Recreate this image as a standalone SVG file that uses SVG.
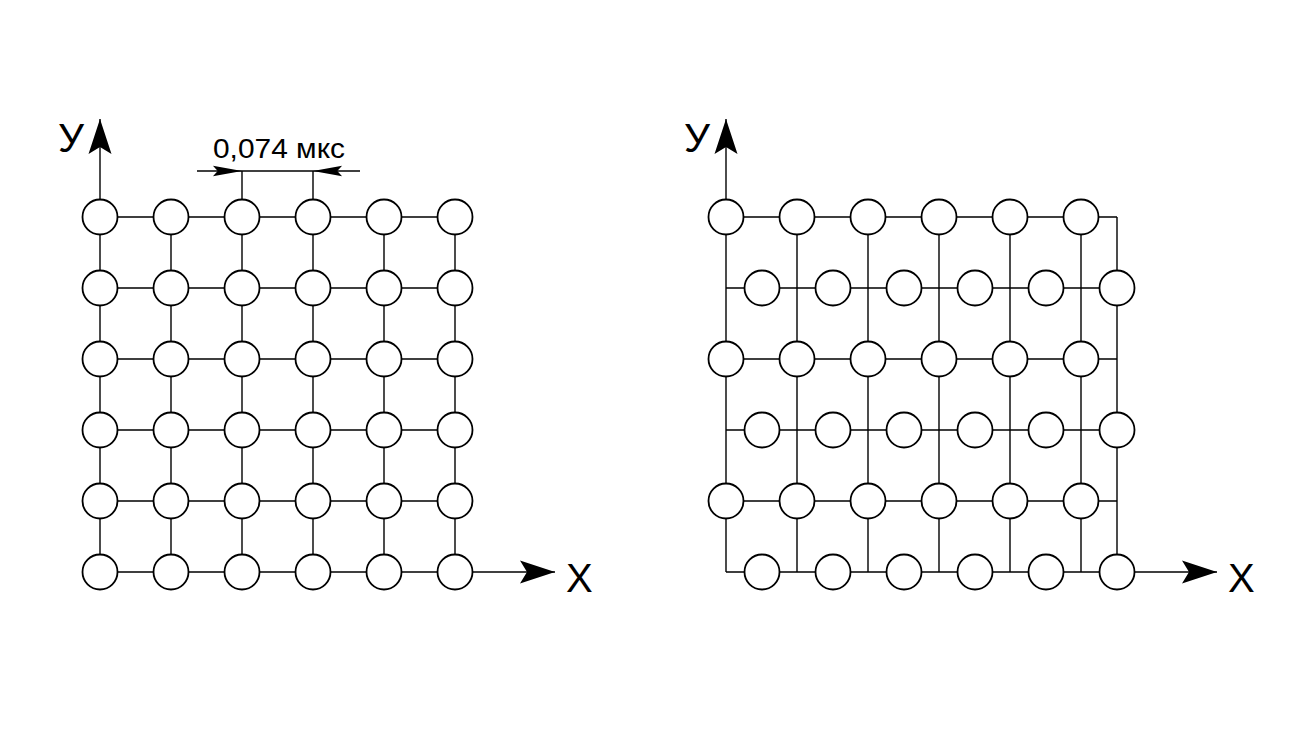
<svg xmlns="http://www.w3.org/2000/svg" width="1315" height="744" viewBox="0 0 1315 744">
<style>
.ln{stroke:#000;stroke-width:1.4;fill:none}
.nd{fill:#fff;stroke:#000;stroke-width:1.8}
.lbl{font-family:"Liberation Sans",Arial,sans-serif;fill:#000}
</style>
<defs>
<marker id="ax" markerUnits="userSpaceOnUse" markerWidth="40" markerHeight="26" viewBox="-36 -13 38 26" refX="0" refY="0" orient="auto">
<path d="M0,0 L-35,-11.5 L-28,0 L-35,11.5 Z" fill="#000"/>
</marker>
<marker id="dm" markerUnits="userSpaceOnUse" markerWidth="32" markerHeight="14" viewBox="-31 -7 33 14" refX="0" refY="0" orient="auto">
<path d="M0,0 L-30,-5.5 L-25,0 L-30,5.5 Z" fill="#000"/>
</marker>
</defs>
<rect width="1315" height="744" fill="#fff"/>
<g id="connectors">
<!-- left grid -->
<path class="ln" d="M100,217V572 M171,217V572 M242,217V572 M313,217V572 M384,217V572 M455,217V572"/>
<path class="ln" d="M100,217H455 M100,288H455 M100,359H455 M100,430H455 M100,501H455 M100,572H455"/>
<line class="ln" x1="100" y1="200" x2="100" y2="119" marker-end="url(#ax)"/>
<line class="ln" x1="473" y1="572" x2="555" y2="572" marker-end="url(#ax)"/>
<!-- dimension -->
<path class="ln" d="M242,199V171 M313,199V171"/>
<line class="ln" x1="197" y1="171" x2="242" y2="171" marker-end="url(#dm)"/>
<line class="ln" x1="360" y1="171" x2="313" y2="171" marker-end="url(#dm)"/>
<line class="ln" x1="242" y1="171" x2="313" y2="171"/>
<!-- right grid -->
<path class="ln" d="M726,217V572 M797,217V572 M868,217V572 M939,217V572 M1010,217V572 M1081,217V572 M1117,217V572"/>
<path class="ln" d="M726,217H1117 M726,288H1117 M726,359H1117 M726,430H1117 M726,501H1117 M726,572H1117"/>
<line class="ln" x1="726" y1="200" x2="726" y2="119" marker-end="url(#ax)"/>
<line class="ln" x1="1135" y1="572" x2="1217" y2="572" marker-end="url(#ax)"/>
</g>
<g id="labels">
<text class="lbl" x="58" y="152" font-size="40" textLength="26" lengthAdjust="spacingAndGlyphs">У</text>
<text class="lbl" x="566" y="592" font-size="40">X</text>
<text class="lbl" x="684" y="152" font-size="40" textLength="26" lengthAdjust="spacingAndGlyphs">У</text>
<text class="lbl" x="1228" y="592" font-size="40">X</text>
<text class="lbl" x="213" y="158" font-size="28" textLength="132" lengthAdjust="spacingAndGlyphs">0,074 мкс</text>
</g>
<g id="left-grid">
<g id="L00"><circle class="nd" cx="100" cy="217" r="17.5"/></g>
<g id="L01"><circle class="nd" cx="171" cy="217" r="17.5"/></g>
<g id="L02"><circle class="nd" cx="242" cy="217" r="17.5"/></g>
<g id="L03"><circle class="nd" cx="313" cy="217" r="17.5"/></g>
<g id="L04"><circle class="nd" cx="384" cy="217" r="17.5"/></g>
<g id="L05"><circle class="nd" cx="455" cy="217" r="17.5"/></g>
<g id="L10"><circle class="nd" cx="100" cy="288" r="17.5"/></g>
<g id="L11"><circle class="nd" cx="171" cy="288" r="17.5"/></g>
<g id="L12"><circle class="nd" cx="242" cy="288" r="17.5"/></g>
<g id="L13"><circle class="nd" cx="313" cy="288" r="17.5"/></g>
<g id="L14"><circle class="nd" cx="384" cy="288" r="17.5"/></g>
<g id="L15"><circle class="nd" cx="455" cy="288" r="17.5"/></g>
<g id="L20"><circle class="nd" cx="100" cy="359" r="17.5"/></g>
<g id="L21"><circle class="nd" cx="171" cy="359" r="17.5"/></g>
<g id="L22"><circle class="nd" cx="242" cy="359" r="17.5"/></g>
<g id="L23"><circle class="nd" cx="313" cy="359" r="17.5"/></g>
<g id="L24"><circle class="nd" cx="384" cy="359" r="17.5"/></g>
<g id="L25"><circle class="nd" cx="455" cy="359" r="17.5"/></g>
<g id="L30"><circle class="nd" cx="100" cy="430" r="17.5"/></g>
<g id="L31"><circle class="nd" cx="171" cy="430" r="17.5"/></g>
<g id="L32"><circle class="nd" cx="242" cy="430" r="17.5"/></g>
<g id="L33"><circle class="nd" cx="313" cy="430" r="17.5"/></g>
<g id="L34"><circle class="nd" cx="384" cy="430" r="17.5"/></g>
<g id="L35"><circle class="nd" cx="455" cy="430" r="17.5"/></g>
<g id="L40"><circle class="nd" cx="100" cy="501" r="17.5"/></g>
<g id="L41"><circle class="nd" cx="171" cy="501" r="17.5"/></g>
<g id="L42"><circle class="nd" cx="242" cy="501" r="17.5"/></g>
<g id="L43"><circle class="nd" cx="313" cy="501" r="17.5"/></g>
<g id="L44"><circle class="nd" cx="384" cy="501" r="17.5"/></g>
<g id="L45"><circle class="nd" cx="455" cy="501" r="17.5"/></g>
<g id="L50"><circle class="nd" cx="100" cy="572" r="17.5"/></g>
<g id="L51"><circle class="nd" cx="171" cy="572" r="17.5"/></g>
<g id="L52"><circle class="nd" cx="242" cy="572" r="17.5"/></g>
<g id="L53"><circle class="nd" cx="313" cy="572" r="17.5"/></g>
<g id="L54"><circle class="nd" cx="384" cy="572" r="17.5"/></g>
<g id="L55"><circle class="nd" cx="455" cy="572" r="17.5"/></g>
</g>
<g id="right-grid">
<g id="R00"><circle class="nd" cx="726" cy="217" r="17.5"/></g>
<g id="R01"><circle class="nd" cx="797" cy="217" r="17.5"/></g>
<g id="R02"><circle class="nd" cx="868" cy="217" r="17.5"/></g>
<g id="R03"><circle class="nd" cx="939" cy="217" r="17.5"/></g>
<g id="R04"><circle class="nd" cx="1010" cy="217" r="17.5"/></g>
<g id="R05"><circle class="nd" cx="1081" cy="217" r="17.5"/></g>
<g id="R10"><circle class="nd" cx="762" cy="288" r="17.5"/></g>
<g id="R11"><circle class="nd" cx="833" cy="288" r="17.5"/></g>
<g id="R12"><circle class="nd" cx="904" cy="288" r="17.5"/></g>
<g id="R13"><circle class="nd" cx="975" cy="288" r="17.5"/></g>
<g id="R14"><circle class="nd" cx="1046" cy="288" r="17.5"/></g>
<g id="R15"><circle class="nd" cx="1117" cy="288" r="17.5"/></g>
<g id="R20"><circle class="nd" cx="726" cy="359" r="17.5"/></g>
<g id="R21"><circle class="nd" cx="797" cy="359" r="17.5"/></g>
<g id="R22"><circle class="nd" cx="868" cy="359" r="17.5"/></g>
<g id="R23"><circle class="nd" cx="939" cy="359" r="17.5"/></g>
<g id="R24"><circle class="nd" cx="1010" cy="359" r="17.5"/></g>
<g id="R25"><circle class="nd" cx="1081" cy="359" r="17.5"/></g>
<g id="R30"><circle class="nd" cx="762" cy="430" r="17.5"/></g>
<g id="R31"><circle class="nd" cx="833" cy="430" r="17.5"/></g>
<g id="R32"><circle class="nd" cx="904" cy="430" r="17.5"/></g>
<g id="R33"><circle class="nd" cx="975" cy="430" r="17.5"/></g>
<g id="R34"><circle class="nd" cx="1046" cy="430" r="17.5"/></g>
<g id="R35"><circle class="nd" cx="1117" cy="430" r="17.5"/></g>
<g id="R40"><circle class="nd" cx="726" cy="501" r="17.5"/></g>
<g id="R41"><circle class="nd" cx="797" cy="501" r="17.5"/></g>
<g id="R42"><circle class="nd" cx="868" cy="501" r="17.5"/></g>
<g id="R43"><circle class="nd" cx="939" cy="501" r="17.5"/></g>
<g id="R44"><circle class="nd" cx="1010" cy="501" r="17.5"/></g>
<g id="R45"><circle class="nd" cx="1081" cy="501" r="17.5"/></g>
<g id="R50"><circle class="nd" cx="762" cy="572" r="17.5"/></g>
<g id="R51"><circle class="nd" cx="833" cy="572" r="17.5"/></g>
<g id="R52"><circle class="nd" cx="904" cy="572" r="17.5"/></g>
<g id="R53"><circle class="nd" cx="975" cy="572" r="17.5"/></g>
<g id="R54"><circle class="nd" cx="1046" cy="572" r="17.5"/></g>
<g id="R55"><circle class="nd" cx="1117" cy="572" r="17.5"/></g>
</g>
</svg>
